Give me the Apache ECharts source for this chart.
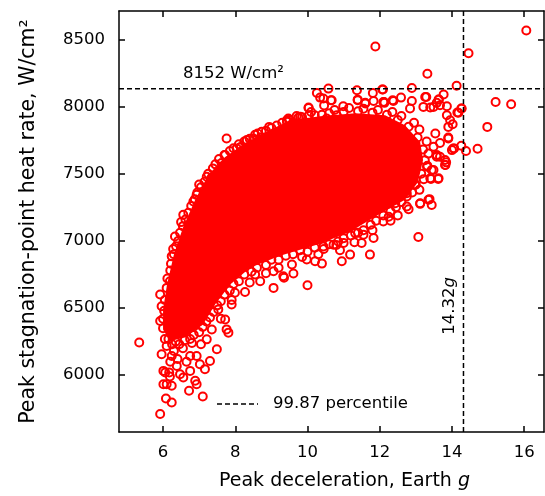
<!DOCTYPE html>
<html>
<head>
<meta charset="utf-8">
<script src="https://cdn.jsdelivr.net/npm/echarts@6/dist/echarts.min.js"></script>
<style>
html,body{margin:0;padding:0;background:#fff;}
#chart{width:545px;height:496px;}
</style>
</head>
<body>
<div id="chart"></div>
<script>
// ---- data ----
var xTicks = [6, 8, 10, 12, 14, 16];
var yTicks = [6000, 6500, 7000, 7500, 8000, 8500];
var heatLimit = 8133;      // dashed line position
var heatLabel = '8152 W/cm\u00B2';
var gLimit = 14.32;
var gLabel = '14.32';
var legendName = '99.87 percentile';

// outline of the solid (overlapping) core of the cloud
var coreOutline = [
  [6.0,6341],[6.19,6252],[6.61,6282],[7.11,6378],[7.44,6527],[7.86,6675],[8.41,6801],
  [9.24,6890],[10.35,6979],[11.18,7068],[12.01,7202],[12.70,7306],[13.06,7439],
  [13.20,7602],[13.12,7736],[12.70,7862],[12.15,7936],[11.32,7951],[10.35,7929],
  [9.52,7899],[8.83,7810],[8.27,7728],[7.72,7625],[7.25,7491],[6.89,7306],
  [6.55,7098],[6.30,6898],[6.11,6675],[6.0,6490]
];

// ring points along the edge of the core
var edgePoints = [
  [6.0,6350],[6.03,6480],[6.1,6650],[6.2,6780],[6.3,6900],[6.42,7000],[6.55,7110],[6.7,7210],
  [6.88,7310],[7.05,7400],[7.25,7500],[7.45,7570],[7.7,7640],[7.95,7690],[8.25,7740],[8.55,7790],
  [8.85,7820],[9.15,7860],[9.5,7900],[9.85,7920],[10.2,7935],[10.6,7950],[11.0,7960],[11.4,7965],
  [11.8,7955],[12.2,7940],[12.5,7900],[12.8,7850],[13.05,7770],[13.2,7680],[13.25,7600],[13.15,7500],
  [13.0,7420],[12.75,7330],[12.45,7250],[12.1,7190],[11.75,7120],[11.4,7060],[11.0,7020],[10.6,6975],
  [10.2,6950],[9.8,6930],[9.4,6890],[9.0,6860],[8.6,6800],[8.25,6750],[7.95,6680],[7.7,6600],
  [7.5,6520],[7.3,6430],[7.1,6360],[6.85,6300],[6.6,6260],[6.35,6250],[6.15,6270]
];

// rings just outside the core edge
var nearEdgePoints = [
  [6.05,6560],[6.12,6720],[6.0,6420],[6.22,6830],[6.36,6960],[6.28,6940],[6.47,7060],[6.62,7160],
  [6.5,7140],[6.78,7260],[6.95,7360],[7.0,7420],[7.15,7440],[7.38,7540],[7.55,7610],[7.62,7580],
  [7.85,7670],[8.1,7720],[8.15,7700],[8.4,7760],[8.62,7800],[8.7,7770],[9.0,7840],[9.3,7880],
  [9.6,7880],[9.7,7930],[10.1,7960],[10.4,7940],[10.75,7975],[11.15,7990],[11.55,7985],[11.95,7975],
  [12.35,7960],[12.6,7930],[12.95,7880],[13.1,7830],[13.3,7740],[13.35,7650],[13.32,7560],[13.22,7460],
  [13.1,7380],[12.9,7360],[12.6,7290],[12.3,7220],[12.25,7180],[11.9,7150],[11.55,7080],[11.2,7040],
  [10.85,6995],[10.8,6970],[10.45,6940],[10.0,6920],[9.6,6900],[9.2,6860],[8.85,6820],[8.45,6770],
  [8.1,6700],[7.85,6630],[7.6,6550],[7.4,6470],[7.2,6400],[7.0,6320],[6.75,6270],[6.45,6230],
  [6.25,6230],[6.05,6270],[6.3,6180],[6.55,6200],[6.8,6240],[6.4,6120],[6.65,6100],[6.2,6100],
  [7.05,6230],[7.35,6340],[7.6,6420],[7.9,6560],[8.4,6690],[8.85,6760],[9.2,6800],[9.85,6880],
  [10.3,6900],[10.9,6930],[11.3,6990],[11.8,7080],[12.3,7150],[12.5,7190]
];

// scattered rings outside the core
var outlierPoints = [
  [16.06,8567],[14.46,8398],[13.32,8245],[12.89,8139],[12.09,8127],[14.13,8156],[15.21,8035],
  [15.64,8018],[14.98,7849],[14.71,7686],[14.39,7669],[14.26,7708],[14.26,7986],[14.15,7956],
  [13.77,8090],[13.64,8053],[13.67,8010],[13.86,8003],[13.29,8072],[12.59,8067],[12.38,8042],
  [12.12,8035],[13.21,7998],[13.40,7993],[13.95,7899],[14.02,7869],[13.86,7936],[13.90,7849],
  [13.90,7770],[13.67,7729],[14.00,7676],[14.06,7689],[13.58,7639],[13.67,7627],[13.84,7585],
  [13.82,7565],[13.49,7528],[13.42,7461],[13.62,7461],[13.38,7311],
  [11.88,8448],[10.58,8134],[10.26,8102],[10.35,8067],[10.65,8047],[10.46,8008],[10.03,7993],
  [10.04,7936],[11.37,8122],[11.39,8047],[11.60,8023],[11.81,8102],[12.07,8127],[11.83,8042],
  [10.99,8003],[9.80,7924],[9.47,7911],[12.10,8035],[12.36,8047],[13.26,8072],[13.63,8053],
  [12.89,8042],[13.49,7998],[14.27,7986],[14.18,7954],
  [10.44,8060],[10.67,8047],[11.39,8052],[11.60,8028],[12.13,8028],[12.84,7986],[13.58,8028],
  [9.43,7899],[9.75,7919],[10.03,7990],[10.26,7862],[10.53,7911],[10.81,7936],[10.94,7899],
  [13.49,7701],[13.58,7627],[13.81,7602],[13.81,7565],[14.04,7689],[13.90,7763],[13.54,7800],
  [13.31,7553],[13.44,7528],[13.40,7467],[13.63,7467],[12.98,7417],[12.75,7355],[12.43,7281],
  [12.75,7256],[13.12,7281],[13.35,7306],[13.44,7268],
  [12.80,7236],[13.12,7276],[13.07,7029],[12.10,7145],[11.83,7021],[11.50,6984],[11.73,6898],
  [11.18,6898],[10.95,6848],[10.40,6831],[10.21,6848],[9.98,6861],[9.57,6824],[9.61,6757],
  [9.35,6725],[10.00,6670],[11.32,7058],[11.55,7046],[11.00,6984],[10.72,6972],[10.44,6959],
  [5.34,6243],[5.92,5711],[6.08,5827],[6.24,5797],[6.06,6020],[6.01,6032],[6.17,6020],
  [6.19,5990],[6.10,5933],[6.24,5921],[6.01,5933],
  [5.96,6156],[6.10,6218],[6.24,6143],[6.38,6069],[6.47,6007],[6.56,5983],[6.75,6032],
  [6.89,5958],[6.93,5933],[6.72,5884],[7.10,5842],[7.16,6045],[7.30,6106],[7.49,6193],
  [7.76,6341],[7.81,6317],[7.72,6415],[7.53,6490],[7.90,6527],[7.99,6614],[8.27,6619],
  [8.55,6749],[8.69,6700],[9.06,6650],[9.06,6774],[9.33,6737],[7.21,6267],[6.93,6143],
  [7.02,6082],[6.75,6143],
  [5.92,6601],[5.96,6514],[5.92,6403],[6.19,6700],[6.33,7033],[6.24,6885],[6.56,7194],
  [6.84,7293],[6.93,7343],[7.21,7478],[7.35,7473],[7.72,7639],[7.76,7763],[8.04,7689],
  [8.32,7751],[8.50,7763],[8.41,7676],[8.73,7812],[8.94,7849],[9.15,7788],[9.43,7887]
];

var allPoints = edgePoints.concat(nearEdgePoints, outlierPoints);

// ---- chart ----
var FONT = 'DejaVu Sans';
var xMin = 4.78, xMax = 16.55, yMin = 5577, yMax = 8712;
var chart = echarts.init(document.getElementById('chart'), null, {renderer: 'canvas'});

function tickStyle(values) {
  return {show: true, inside: true, length: 6, customValues: values, lineStyle: {color: '#000', width: 1.5}};
}
var lineAxis = {show: true, onZero: false, lineStyle: {color: '#000', width: 1.5}};

var option = {
  animation: false,
  backgroundColor: '#fff',
  textStyle: {fontFamily: FONT},
  grid: {left: 119, right: 1, top: 11, bottom: 63, containLabel: false},
  xAxis: [
    {
      type: 'value', position: 'bottom', min: xMin, max: xMax,
      axisLine: lineAxis, axisTick: tickStyle(xTicks), splitLine: {show: false},
      axisLabel: {customValues: xTicks, fontFamily: FONT, fontSize: 16.5, color: '#000', margin: 12,
                  formatter: function (v) { return String(v); }},
      name: '{n|Peak deceleration, Earth }{i|g}',
      nameLocation: 'middle', nameGap: 40,
      nameTextStyle: {padding: [0, 0, 0, 26], rich: {
        n: {fontFamily: FONT, fontSize: 19, color: '#000'},
        i: {fontFamily: FONT, fontSize: 19, color: '#000', fontStyle: 'italic'}
      }}
    },
    {
      type: 'value', position: 'top', min: xMin, max: xMax,
      axisLine: lineAxis, axisTick: tickStyle(xTicks), splitLine: {show: false},
      axisLabel: {show: false}
    }
  ],
  yAxis: [
    {
      type: 'value', position: 'left', min: yMin, max: yMax,
      axisLine: lineAxis, axisTick: tickStyle(yTicks), splitLine: {show: false},
      axisLabel: {customValues: yTicks, fontFamily: FONT, fontSize: 16.5, color: '#000', margin: 14,
                  formatter: function (v) { return String(v); }},
      name: 'Peak stagnation-point heat rate, W/cm\u00B2',
      nameLocation: 'middle', nameGap: 80,
      nameTextStyle: {fontFamily: FONT, fontSize: 20.5, color: '#000'}
    },
    {
      type: 'value', position: 'right', min: yMin, max: yMax,
      axisLine: lineAxis, axisTick: tickStyle(yTicks), splitLine: {show: false},
      axisLabel: {show: false}
    }
  ],
  series: [
    {
      type: 'custom',
      name: 'core',
      silent: true,
      clip: true,
      data: [coreOutline[0]],
      renderItem: function (params, api) {
        var pts = coreOutline.map(function (p) { return api.coord(p); });
        return {type: 'polygon', shape: {points: pts}, style: {fill: '#ff0000'}};
      },
      z: 1
    },
    {
      type: 'scatter',
      name: 'samples',
      data: allPoints,
      symbol: 'circle',
      symbolSize: 8,
      itemStyle: {color: 'rgba(0,0,0,0)', borderColor: '#ff0000', borderWidth: 2, opacity: 1},
      silent: true,
      z: 2
    },
    {
      type: 'line',
      name: legendName,
      data: [[xMin, heatLimit], [xMax, heatLimit]],
      symbol: 'none',
      lineStyle: {color: '#000', width: 1.5, type: [5, 3]},
      silent: true,
      z: 3
    },
    {
      type: 'line',
      name: legendName,
      data: [[gLimit, yMin], [gLimit, yMax]],
      symbol: 'none',
      lineStyle: {color: '#000', width: 1.5, type: [5, 3]},
      silent: true,
      z: 3
    }
  ],
  graphic: [
    {
      type: 'text', left: 183, top: 65, z: 10,
      style: {text: heatLabel, fontFamily: FONT, fontSize: 16.5, fill: '#000'}
    },
    {
      type: 'text', z: 10,
      x: 450, y: 306, rotation: Math.PI / 2,
      style: {
        text: '{a|' + gLabel + '}{b|g}', align: 'center', verticalAlign: 'middle',
        rich: {
          a: {fontFamily: FONT, fontSize: 16.5, fill: '#000'},
          b: {fontFamily: FONT, fontSize: 16.5, fill: '#000', fontStyle: 'italic'}
        }
      }
    },
    // legend entry for the dashed percentile lines
    {
      type: 'line', z: 10,
      shape: {x1: 217, y1: 404, x2: 258, y2: 404},
      style: {stroke: '#000', lineWidth: 1.5, lineDash: [5, 3]}
    },
    {
      type: 'text', z: 10, x: 273, y: 404,
      style: {text: legendName, fontFamily: FONT, fontSize: 16.5, fill: '#000', verticalAlign: 'middle'}
    }
  ]
};
chart.setOption(option);
</script>
</body>
</html>
